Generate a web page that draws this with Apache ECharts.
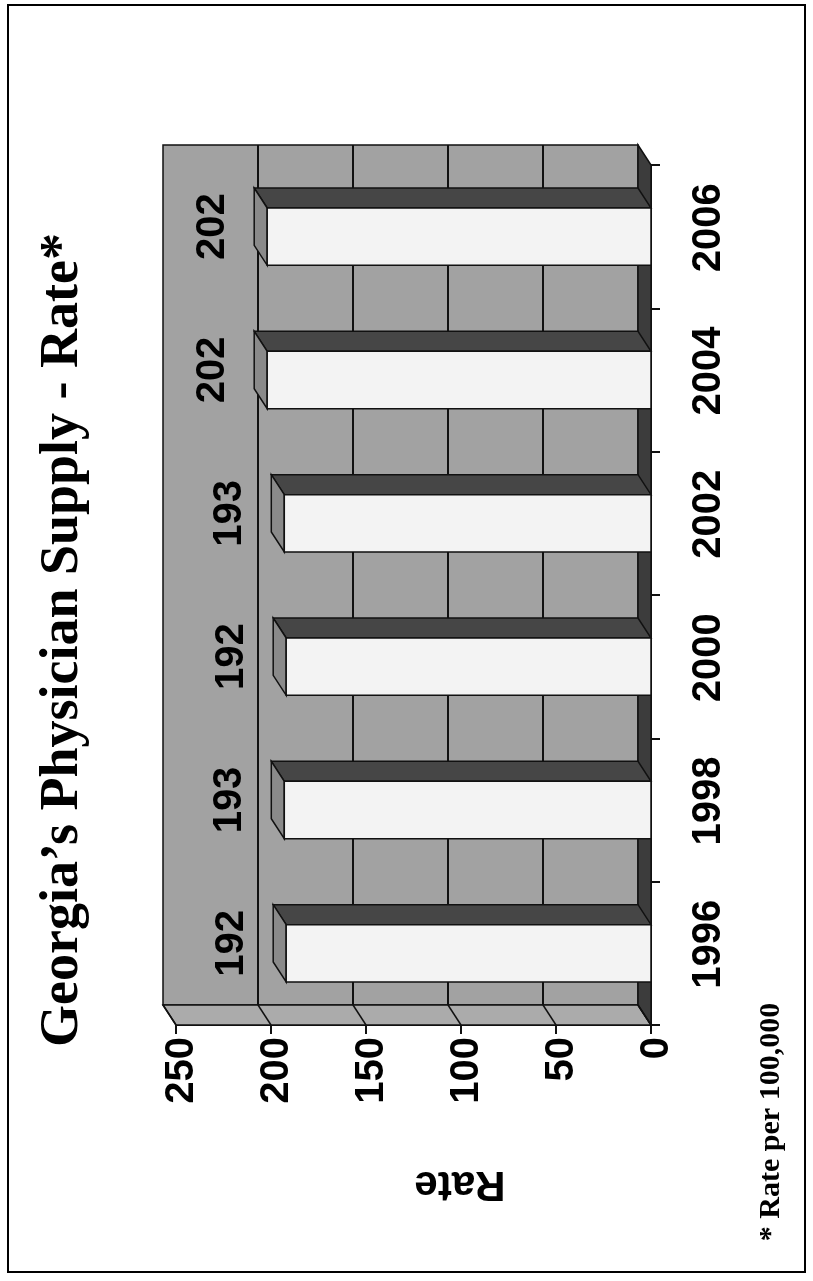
<!DOCTYPE html>
<html>
<head>
<meta charset="utf-8">
<script src="https://cdn.jsdelivr.net/npm/echarts@6/dist/echarts.min.js"></script>
<style>
  html, body { margin: 0; padding: 0; background: #ffffff; }
  #chart { width: 813px; height: 1281px; }
</style>
</head>
<body>
<div id="chart"></div>
<script>
// Physician supply per 100,000 population, Georgia
const years = ['1996', '1998', '2000', '2002', '2004', '2006'];
const rates = [192, 193, 192, 193, 202, 202];
const rateGrid = [0, 50, 100, 150, 200, 250];

const titleText = 'Georgia\u2019s Physician Supply - Rate*';
const footnoteText = '* Rate per 100,000';
const axisTitle = 'Rate';

// oblique 3-D look: offset from the front plane to the back wall
const DEPTH_X = -13;
const DEPTH_Y = -20;
const BAR_RATIO = 0.40;

const WALL = '#a2a2a2';
const SIDE_WALL = '#ababab';
const FLOOR = '#3c3c3c';
const EDGE = '#111111';
const BAR_FRONT = '#f3f3f3';
const BAR_SIDE = '#464646';
const BAR_END = '#8a8a8a';

const NUM_FONT = '"Liberation Sans", Arial, sans-serif';
const SERIF_FONT = '"Liberation Serif", "Times New Roman", serif';

function renderWalls(params, api) {
  const cs = params.coordSys;
  const left = cs.x, right = cs.x + cs.width;
  const top = cs.y, bottom = cs.y + cs.height;
  const dx = DEPTH_X, dy = DEPTH_Y;
  const line = { stroke: EDGE, lineWidth: 2 };
  const children = [
    // back wall
    { type: 'rect', shape: { x: left + dx, y: top + dy, width: cs.width, height: cs.height },
      style: { fill: WALL, stroke: EDGE, lineWidth: 1.5 } },
    // side wall along the value axis
    { type: 'polygon', shape: { points: [[left + dx, bottom + dy], [right + dx, bottom + dy], [right, bottom], [left, bottom]] },
      style: { fill: SIDE_WALL, stroke: EDGE, lineWidth: 1.5 } },
    // floor under the bars
    { type: 'polygon', shape: { points: [[right + dx, top + dy], [right, top], [right, bottom], [right + dx, bottom + dy]] },
      style: { fill: FLOOR, stroke: EDGE, lineWidth: 1.5 } }
  ];
  rateGrid.forEach(function (v) {
    const x = api.coord([v, 0])[0];
    if (v > 0 && v < 250) {
      children.push({ type: 'line', shape: { x1: x + dx, y1: top + dy, x2: x + dx, y2: bottom + dy }, style: line });
    }
    children.push({ type: 'line', shape: { x1: x + dx, y1: bottom + dy, x2: x, y2: bottom }, style: { stroke: EDGE, lineWidth: 1.5 } });
  });
  return { type: 'group', children: children };
}

function renderBar(params, api) {
  const val = api.value(0);
  const cat = api.value(1);
  const tip = api.coord([val, cat]);
  const base = api.coord([0, cat]);
  const band = api.size([0, 1])[1];
  const half = band * BAR_RATIO / 2;
  const y0 = tip[1] - half, y1 = tip[1] + half;
  const xt = tip[0], xb = base[0];
  const dx = DEPTH_X, dy = DEPTH_Y;
  const edge = { stroke: EDGE, lineWidth: 1.5 };
  return {
    type: 'group',
    children: [
      { type: 'polygon', shape: { points: [[xt, y0], [xb, y0], [xb + dx, y0 + dy], [xt + dx, y0 + dy]] },
        style: Object.assign({ fill: BAR_SIDE }, edge) },
      { type: 'polygon', shape: { points: [[xt, y0], [xt, y1], [xt + dx, y1 + dy], [xt + dx, y0 + dy]] },
        style: Object.assign({ fill: BAR_END }, edge) },
      { type: 'rect', shape: { x: xt, y: y0, width: xb - xt, height: y1 - y0 },
        style: Object.assign({ fill: BAR_FRONT }, edge) },
      { type: 'text', x: xt + dx - 41, y: tip[1] + dy / 2, rotation: Math.PI / 2,
        style: { text: String(val), fontFamily: NUM_FONT, fontWeight: 'bold', fontSize: 40,
                 fill: '#000', align: 'center', verticalAlign: 'middle' } }
    ]
  };
}

const chart = echarts.init(document.getElementById('chart'), null, { renderer: 'canvas' });

chart.setOption({
  backgroundColor: '#ffffff',
  animation: false,
  grid: { left: 176, right: 162, top: 165, bottom: 256, containLabel: false, outerBoundsMode: 'none' },
  xAxis: {
    type: 'value',
    inverse: true,
    min: 0,
    max: 250,
    interval: 50,
    position: 'bottom',
    axisLine: { show: true, lineStyle: { color: EDGE, width: 2 } },
    axisTick: { show: true, length: 9, lineStyle: { color: EDGE, width: 2 } },
    axisLabel: { rotate: 90, margin: 12, color: '#000',
                 formatter: '{n|{value}}',
                 rich: { n: { fontFamily: NUM_FONT, fontWeight: 'bold', fontSize: 40, color: '#000',
                              padding: [12, 0, 0, 0] } } },
    splitLine: { show: false }
  },
  yAxis: {
    type: 'category',
    data: years,
    position: 'right',
    axisLine: { show: true, lineStyle: { color: EDGE, width: 2 } },
    axisTick: { show: true, length: 9, lineStyle: { color: EDGE, width: 2 } },
    axisLabel: { rotate: 90, margin: 38, color: '#000', fontFamily: NUM_FONT, fontWeight: 'bold', fontSize: 40,
                 padding: [0, 0, 0, 18] },
    splitLine: { show: false }
  },
  graphic: [
    { type: 'rect', shape: { x: 8, y: 5, width: 797, height: 1267 },
      style: { fill: 'none', stroke: '#000', lineWidth: 2 }, z: 0 },
    { type: 'text', x: 63, y: 640, rotation: Math.PI / 2,
      style: { text: titleText, fontFamily: SERIF_FONT, fontWeight: 'bold', fontSize: 54,
               fill: '#000', align: 'center', verticalAlign: 'middle' } },
    { type: 'text', x: 771, y: 1122, rotation: Math.PI / 2,
      style: { text: footnoteText, fontFamily: SERIF_FONT, fontWeight: 'bold', fontSize: 30,
               fill: '#000', align: 'center', verticalAlign: 'middle' } },
    { type: 'text', x: 460, y: 1184, rotation: Math.PI,
      style: { text: axisTitle, fontFamily: NUM_FONT, fontWeight: 'bold', fontSize: 42,
               fill: '#000', align: 'center', verticalAlign: 'middle' } }
  ],
  series: [
    { type: 'custom', name: 'walls', renderItem: renderWalls, data: [[0, 0]],
      encode: { x: 0, y: 1 }, silent: true, z: 1 },
    { type: 'custom', name: 'Rate', renderItem: renderBar,
      data: rates.map(function (r, i) { return [r, i]; }),
      encode: { x: 0, y: 1 }, z: 2 }
  ]
});
</script>
</body>
</html>
